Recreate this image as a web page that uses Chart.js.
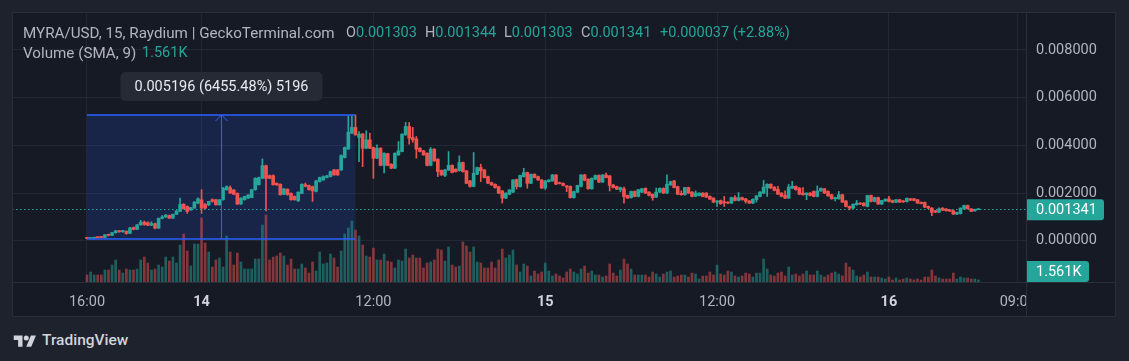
<!DOCTYPE html>
<html>
<head>
<meta charset="utf-8">
<script src="https://cdn.jsdelivr.net/npm/chart.js@4.4.1/dist/chart.umd.min.js"></script>
<style>
  body { margin: 0; width: 1129px; height: 361px; background: #1e222d; overflow: hidden; position: relative; font-family: Roboto, sans-serif; }
  #wrap { position: absolute; left: 12px; top: 12px; width: 1104px; height: 305px; }
  .hd { position: absolute; font-size: 14.5px; line-height: 18px; color: #b2b5be; white-space: nowrap; }
  .up { color: #26a69a; }
  #logo { position: absolute; left: 13px; top: 331px; display: flex; align-items: center; gap: 5px; color: #d1d4dc; font-size: 15.5px; font-weight: 500; }
</style>
</head>
<body>
<div id="wrap"><canvas id="chart" width="1104" height="305"></canvas></div>

<div class="hd" style="left:23px;top:24px;font-size:15.2px">MYRA/USD, 15, Raydium | GeckoTerminal.com</div>
<div class="hd" style="left:346px;top:24px">O<span class="up">0.001303</span></div>
<div class="hd" style="left:425px;top:24px">H<span class="up">0.001344</span></div>
<div class="hd" style="left:504px;top:24px">L<span class="up">0.001303</span></div>
<div class="hd" style="left:581px;top:24px">C<span class="up">0.001341</span></div>
<div class="hd up" style="left:660px;top:24px">+0.000037 (+2.88%)</div>
<div class="hd" style="left:23px;top:44px;font-size:15.2px">Volume (SMA, 9)</div>
<div class="hd up" style="left:142px;top:44px">1.561K</div>

<div id="logo">
  <svg width="24" height="15" viewBox="0 0 36 24"><path fill="#d1d4dc" d="M14 22H7V11H0V4h14v18zM28 22h-8l7.5-18h8L28 22z"/><circle cx="20" cy="8" r="4" fill="#d1d4dc"/></svg>
  <span>TradingView</span>
</div>

<script>
// 15 minute candles, prices in millionths of a USD (1341 = 0.001341)
const opens = [
  140, 95, 110, 150, 165, 140, 250, 230, 340, 420,
  375, 400, 310, 560, 480, 670, 780, 760, 650, 720,
  530, 940, 1000, 1060, 950, 1110, 1230, 1530, 1440, 1290,
  1370, 1580, 1720, 1530, 1500, 1720, 1720, 1510, 1720, 2140,
  2230, 2130, 1990, 1540, 1720, 1790, 1810, 2140, 2350, 2620,
  3150, 2730, 2730, 2410, 2370, 1950, 2160, 1990, 1860, 1670,
  1990, 2350, 2320, 2270, 2070, 2480, 2550, 2650, 2690, 2970,
  2970, 2970, 3490, 3850, 4510, 4750, 4330, 4480, 3880, 4230,
  3910, 3460, 3880, 3160, 3650, 3210, 3040, 3600, 3740, 4440,
  4790, 4330, 4270, 3880, 3770, 3670, 3160, 3840, 3420, 2950,
  2740, 2960, 3160, 3000, 2940, 3280, 2930, 2510, 2280, 2790,
  3070, 2970, 2690, 2440, 2370, 2270, 2090, 1790, 1950, 2040,
  2570, 2270, 2690, 2860, 2410, 2790, 2690, 2550, 2210, 2480,
  2510, 2760, 2440, 2410, 2300, 2280, 1810, 2040, 2280, 2760,
  2580, 2180, 2580, 2740, 2460, 2760, 2720, 2340, 2270, 2140,
  2180, 1900, 1810, 2070, 1860, 2040, 2200, 2040, 1950, 1830,
  2040, 2200, 2000, 2340, 2510, 2270, 1990, 1930, 2230, 2040,
  1870, 1900, 2000, 2000, 1860, 1790, 1620, 1690, 1620, 1620,
  1580, 1810, 1690, 1810, 1760, 1670, 1580, 1720, 1860, 2000,
  2210, 2370, 2250, 2160, 2000, 1900, 1790, 2200, 2280, 2210,
  2000, 1930, 2000, 2070, 1860, 2090, 2180, 2070, 1930, 1760,
  1760, 1930, 1670, 1440, 1370, 1510, 1580, 1580, 1440, 1900,
  1650, 1810, 1540, 1670, 1760, 1690, 1620, 1720, 1670, 1640,
  1760, 1760, 1720, 1610, 1610, 1440, 1370, 1260, 1200, 1370,
  1330, 1300, 1260, 1120, 1140, 1340, 1480, 1340, 1250, 1303
];
const highs = [
  150, 120, 150, 165, 170, 260, 280, 350, 440, 430,
  440, 420, 560, 580, 680, 860, 830, 790, 800, 740,
  960, 1060, 1100, 1080, 1120, 1260, 1790, 1560, 1460, 1400,
  1650, 1800, 2140, 1560, 1660, 1760, 1740, 1730, 2240, 2300,
  2300, 2150, 2010, 1800, 1870, 1940, 2160, 2640, 2670, 3430,
  3170, 2760, 2760, 2430, 2390, 2190, 2180, 2010, 1880, 2050,
  2390, 2420, 2340, 2290, 2530, 2670, 2720, 2740, 2920, 3000,
  2990, 3600, 3930, 5240, 5250, 5276, 4580, 4500, 4610, 4510,
  3930, 4020, 3900, 3690, 3670, 3230, 3690, 4160, 4480, 4960,
  4960, 4750, 4370, 3900, 3790, 3690, 3910, 3860, 3440, 2970,
  2990, 3740, 3180, 3020, 3560, 3300, 2950, 2530, 3700, 3090,
  3210, 2990, 2710, 2460, 2390, 2290, 2110, 2010, 2150, 2570,
  2590, 2750, 3040, 2880, 2800, 2810, 2710, 2570, 2530, 2560,
  2780, 2780, 2460, 2430, 2320, 2300, 2080, 2330, 2780, 2790,
  2600, 2640, 2760, 2760, 2780, 2840, 2740, 2360, 2290, 2250,
  2250, 1920, 2080, 2090, 2150, 2200, 2220, 2060, 1970, 2210,
  2220, 2220, 2760, 2500, 2530, 2290, 2090, 2240, 2250, 2060,
  2090, 2010, 2020, 2020, 1880, 1810, 1690, 1710, 1860, 1640,
  1830, 1900, 2020, 1830, 1780, 1690, 1760, 1900, 2060, 2530,
  2390, 2390, 2270, 2280, 2020, 2090, 2370, 2490, 2300, 2230,
  2230, 2010, 2020, 2090, 2300, 2220, 2200, 2090, 1950, 1830,
  2070, 1950, 1690, 1460, 1550, 1690, 1600, 1600, 1910, 1920,
  1830, 1830, 1700, 1760, 1860, 1710, 1730, 1740, 1690, 1800,
  1780, 1780, 1740, 1630, 1630, 1460, 1390, 1280, 1380, 1390,
  1350, 1310, 1280, 1200, 1380, 1500, 1500, 1350, 1330, 1344
];
const lows = [
  80, 90, 105, 120, 130, 135, 200, 220, 320, 360,
  360, 270, 300, 460, 470, 650, 650, 630, 640, 500,
  520, 920, 980, 930, 940, 1100, 1220, 1330, 1150, 1280,
  1360, 1560, 1150, 1340, 1480, 1620, 1490, 1490, 1700, 2120,
  1980, 1930, 1520, 1520, 1700, 1770, 1800, 2120, 2330, 2600,
  1250, 2600, 2330, 2320, 1910, 1930, 1910, 1700, 1700, 1650,
  1970, 2260, 2120, 1650, 2050, 2460, 2530, 2630, 2670, 2750,
  2740, 2950, 3470, 3830, 4490, 4420, 3320, 3110, 3860, 3860,
  2620, 3440, 3140, 2840, 3140, 3020, 3020, 3580, 3720, 4420,
  4050, 4130, 3460, 3720, 3580, 3140, 3140, 3330, 2690, 2740,
  2690, 2940, 2840, 2880, 2920, 2880, 2390, 2250, 2260, 2770,
  2480, 2630, 2390, 2320, 2210, 1970, 1580, 1770, 1930, 2020,
  2170, 2250, 2670, 2200, 2390, 2630, 2530, 2190, 2150, 2460,
  2490, 2350, 2380, 2300, 2060, 1790, 1790, 2020, 2260, 2510,
  2160, 2160, 2560, 2440, 2440, 2630, 2090, 2210, 2150, 2050,
  1580, 1770, 1790, 1840, 1840, 2020, 1980, 1880, 1700, 1810,
  2020, 1980, 1980, 2320, 2220, 1940, 1910, 1910, 1980, 1840,
  1850, 1880, 1840, 1810, 1730, 1600, 1440, 1530, 1440, 1560,
  1560, 1670, 1670, 1700, 1580, 1560, 1560, 1620, 1840, 1980,
  1860, 2190, 2090, 1940, 1840, 1770, 1770, 2180, 2120, 1940,
  1910, 1720, 1880, 1840, 1840, 2070, 1980, 1870, 1740, 1670,
  1740, 1600, 1420, 1300, 1350, 1490, 1520, 1450, 1420, 1630,
  1630, 1520, 1520, 1650, 1630, 1590, 1600, 1600, 1610, 1620,
  1690, 1670, 1560, 1550, 1390, 1350, 1050, 1180, 1180, 1270,
  1240, 1230, 1100, 1100, 1120, 1320, 1330, 1220, 1240, 1303
];
const closes = [
  95, 110, 145, 130, 140, 250, 230, 340, 420, 375,
  430, 310, 540, 480, 670, 780, 680, 650, 720, 530,
  940, 1000, 1080, 950, 1110, 1250, 1530, 1340, 1230, 1390,
  1620, 1760, 1370, 1370, 1650, 1650, 1510, 1720, 2200, 2270,
  2000, 1950, 1540, 1790, 1860, 1920, 2140, 2620, 2650, 3150,
  2620, 2620, 2350, 2340, 1930, 2180, 1930, 1720, 1720, 2040,
  2370, 2280, 2140, 2090, 2510, 2650, 2690, 2720, 2900, 2760,
  2760, 3570, 3910, 4550, 4750, 4440, 4470, 3880, 4230, 3880,
  3460, 3880, 3160, 3670, 3160, 3040, 3670, 3770, 4470, 4790,
  4300, 4230, 3840, 3740, 3600, 3160, 3840, 3350, 2900, 2760,
  2970, 3160, 2860, 2900, 3280, 2900, 2410, 2280, 2830, 3070,
  2930, 2650, 2410, 2340, 2230, 2000, 1790, 2000, 2130, 2550,
  2270, 2740, 2860, 2410, 2790, 2650, 2550, 2210, 2510, 2550,
  2760, 2370, 2400, 2320, 2250, 1810, 2060, 2320, 2760, 2530,
  2180, 2620, 2740, 2460, 2760, 2650, 2320, 2230, 2160, 2230,
  1850, 1790, 2070, 1860, 2140, 2180, 2000, 1900, 1810, 2040,
  2200, 2000, 2370, 2480, 2230, 1950, 1930, 2230, 2000, 1860,
  2000, 2000, 1860, 1830, 1740, 1620, 1670, 1550, 1590, 1580,
  1810, 1690, 1810, 1720, 1650, 1580, 1740, 1880, 2040, 2250,
  2370, 2210, 2110, 1950, 1860, 1790, 2250, 2290, 2140, 1950,
  1930, 2000, 1900, 1860, 2090, 2200, 2000, 1880, 1760, 1810,
  1930, 1620, 1440, 1370, 1530, 1580, 1540, 1470, 1900, 1650,
  1810, 1540, 1690, 1740, 1650, 1610, 1720, 1620, 1630, 1780,
  1700, 1690, 1580, 1560, 1410, 1370, 1190, 1200, 1340, 1280,
  1260, 1240, 1120, 1190, 1370, 1480, 1340, 1230, 1320, 1341
];
const volumes = [
  3500, 5000, 3500, 3500, 3500, 6000, 6000, 8500, 11000, 6000,
  4500, 6500, 6000, 6000, 6500, 11000, 12500, 9500, 6000, 6500,
  8500, 7500, 12500, 10500, 12500, 9500, 18500, 24000, 15500, 8000,
  19000, 19000, 32000, 19500, 15000, 7500, 11000, 12000, 7500, 23000,
  15000, 8500, 14500, 10000, 6500, 6500, 6500, 11500, 11500, 28500,
  33500, 11000, 12500, 13000, 14500, 13000, 8500, 11500, 6500, 6500,
  9000, 7000, 4500, 10000, 5500, 15000, 9000, 9500, 14000, 12000,
  7500, 15500, 24000, 27000, 30500, 26000, 23000, 18500, 13000, 12500,
  17000, 11000, 11000, 14000, 10500, 10000, 7000, 11000, 10500, 16500,
  12000, 13500, 12000, 12000, 7000, 9500, 10000, 11000, 16500, 16000,
  10500, 17500, 8500, 7500, 8000, 20000, 18000, 15000, 17500, 10000,
  9500, 7000, 7000, 10000, 7000, 11000, 16500, 12000, 13500, 16000,
  8500, 5000, 9000, 8000, 3000, 5500, 4000, 5000, 9500, 5500,
  3000, 4000, 3000, 2000, 5000, 6500, 5000, 4000, 6500, 8000,
  4500, 5500, 3500, 3500, 2500, 3000, 9000, 4500, 3000, 6000,
  11500, 9000, 6500, 3500, 3500, 3500, 3500, 2500, 5000, 4000,
  2500, 4000, 5000, 5500, 2500, 3000, 3500, 3500, 2500, 4500,
  4000, 1500, 3000, 3000, 5000, 3500, 8500, 4000, 3500, 5500,
  5000, 3000, 2500, 3000, 4500, 4000, 2500, 4500, 4500, 11500,
  6500, 3500, 3000, 4500, 5000, 3000, 7500, 3500, 4000, 3000,
  4000, 5500, 3500, 3500, 5500, 3500, 2500, 3500, 4500, 5000,
  4000, 3000, 9500, 7500, 6000, 3000, 2500, 3500, 5000, 2500,
  2500, 2500, 2000, 1500, 2500, 1000, 2000, 1000, 1500, 2000,
  1500, 1000, 1500, 1000, 2500, 2500, 6000, 3000, 2000, 1500,
  1500, 1500, 4500, 1500, 2500, 2000, 2000, 1500, 1500, 1000
];

// time axis: candle index of each tick and its label
const timeTickIdx = [0, 32, 80, 128, 176, 224, 260];
const timeTickLabels = ['16:00', '14', '12:00', '15', '12:00', '16', '09:00'];
const dayLabels = ['14', '15', '16'];
const priceTicks = [0, 2000, 4000, 6000, 8000];

const lastPrice = 1341;
const volumeSma = 1561;

// price range measurement drawn on the chart
const measureFrom = 0;
const measureTo = 75;
const measureLow = 80;
const measureHigh = 5276;
const measureText = '0.005196 (6455.48%) 5196';

const bgColor = '#161a25';
const gridColor = '#232733';
const lineColor = '#2a2e39';
const textColor = '#b2b5be';
const upColor = '#26a69a';
const downColor = '#ef5350';
const font = 'Roboto';

const isUp = i => closes[i] >= opens[i];
const candleColor = c => isUp(c.dataIndex) ? upColor : downColor;
const volColor = c => isUp(c.dataIndex) ? 'rgba(38,166,154,0.5)' : 'rgba(239,83,80,0.5)';

const idx = closes.map((_, i) => i);
const wickData = idx.map(i => ({ x: i, y: [lows[i], highs[i]] }));
const bodyData = idx.map(i => ({ x: i, y: [opens[i], closes[i]] }));
const volData = idx.map(i => ({ x: i, y: volumes[i] }));

const overlay = {
    id: 'overlay',
    beforeDraw(chart) {
        const ctx = chart.ctx;
        ctx.save();
        ctx.fillStyle = bgColor;
        ctx.fillRect(0, 0, chart.width, chart.height);
        ctx.restore();
    },
    beforeDatasetsDraw(chart) {
        const { ctx, chartArea: a, scales: { x, y } } = chart;
        ctx.save();
        ctx.beginPath();
        ctx.rect(a.left, a.top, a.right - a.left, a.bottom - a.top);
        ctx.clip();

        // measurement area fill
        const x0 = x.getPixelForValue(measureFrom);
        const x1 = x.getPixelForValue(measureTo);
        const yTop = y.getPixelForValue(measureHigh);
        const yBot = y.getPixelForValue(measureLow);
        ctx.fillStyle = 'rgba(41,98,255,0.16)';
        ctx.fillRect(x0, yTop, x1 - x0, yBot - yTop);

        // last price dotted line
        const py = Math.round(y.getPixelForValue(lastPrice)) + 0.5;
        ctx.strokeStyle = upColor;
        ctx.lineWidth = 1;
        ctx.setLineDash([1.5, 2.5]);
        ctx.beginPath();
        ctx.moveTo(a.left, py);
        ctx.lineTo(a.right, py);
        ctx.stroke();
        ctx.restore();
    },
    afterDatasetsDraw(chart) {
        const { ctx, chartArea: a, scales: { x, y } } = chart;
        const x0 = x.getPixelForValue(measureFrom);
        const x1 = x.getPixelForValue(measureTo);
        const yTop = Math.round(y.getPixelForValue(measureHigh));
        const yBot = Math.round(y.getPixelForValue(measureLow));
        const xm = Math.round((x0 + x1) / 2) + 0.5;

        ctx.save();
        ctx.strokeStyle = '#2962ff';
        ctx.lineWidth = 1.5;
        ctx.beginPath();
        ctx.moveTo(x0, yTop); ctx.lineTo(x1, yTop);
        ctx.moveTo(x0, yBot); ctx.lineTo(x1, yBot);
        ctx.stroke();
        ctx.lineWidth = 1;
        ctx.beginPath();
        ctx.moveTo(xm, yBot); ctx.lineTo(xm, yTop);
        ctx.moveTo(xm - 6, yTop + 6); ctx.lineTo(xm, yTop); ctx.lineTo(xm + 6, yTop + 6);
        ctx.stroke();

        // measurement label
        ctx.font = '14.5px ' + font;
        const tw = ctx.measureText(measureText).width;
        const bw = tw + 28, bh = 29;
        const bx = xm - bw / 2, by = yTop - 14 - bh;
        ctx.fillStyle = '#262a35';
        ctx.beginPath();
        ctx.roundRect(bx, by, bw, bh, 5);
        ctx.fill();
        ctx.fillStyle = '#e8eaef';
        ctx.textAlign = 'center';
        ctx.textBaseline = 'middle';
        ctx.fillText(measureText, xm, by + bh / 2 + 1);

        // price axis background (hides the clipped time label)
        ctx.fillStyle = bgColor;
        ctx.fillRect(a.right, 0, chart.width - a.right, chart.height);
        ctx.restore();
    },
    afterDraw(chart) {
        const { ctx, chartArea: a, scales: { y, yVol } } = chart;
        ctx.save();
        ctx.font = '14.5px ' + font;
        ctx.textBaseline = 'middle';

        // last price tag
        const py = y.getPixelForValue(lastPrice);
        ctx.fillStyle = upColor;
        ctx.beginPath();
        ctx.roundRect(a.right, py - 9.5, 78, 21, [0, 3, 3, 0]);
        ctx.fill();
        ctx.fillStyle = '#ffffff';
        ctx.fillText((lastPrice / 1e6).toFixed(6), a.right + 10, py + 1.5);

        // volume SMA tag, kept inside the pane
        let vy = yVol.getPixelForValue(volumeSma) - 10;
        vy = Math.min(vy, a.bottom - 21);
        ctx.fillStyle = upColor;
        ctx.beginPath();
        ctx.roundRect(a.right, vy, 63, 21, [0, 3, 3, 0]);
        ctx.fill();
        ctx.fillStyle = '#ffffff';
        ctx.fillText((volumeSma / 1000).toFixed(3) + 'K', a.right + 10, vy + 11);

        // pane and axis borders
        ctx.strokeStyle = lineColor;
        ctx.lineWidth = 1;
        ctx.beginPath();
        ctx.moveTo(a.right + 0.5, 0); ctx.lineTo(a.right + 0.5, chart.height);
        ctx.moveTo(0, a.bottom + 0.5); ctx.lineTo(chart.width, a.bottom + 0.5);
        ctx.rect(0.5, 0.5, chart.width - 1, chart.height - 1);
        ctx.stroke();
        ctx.restore();
    }
};

const tickLabel = v => timeTickLabels[timeTickIdx.indexOf(v)] || '';
const isDay = c => !!(c && c.tick) && dayLabels.includes(tickLabel(c.tick.value));

new Chart(document.getElementById('chart'), {
    type: 'bar',
    data: {
        datasets: [
            {
                label: 'Volume',
                data: volData,
                yAxisID: 'yVol',
                backgroundColor: volColor,
                barThickness: 2,
                grouped: false,
                order: 3
            },
            {
                label: 'Wick',
                data: wickData,
                yAxisID: 'y',
                backgroundColor: candleColor,
                barThickness: 1,
                grouped: false,
                order: 2
            },
            {
                label: 'Body',
                data: bodyData,
                yAxisID: 'y',
                backgroundColor: candleColor,
                barThickness: 3,
                minBarLength: 1,
                grouped: false,
                order: 1
            }
        ]
    },
    options: {
        responsive: false,
        animation: false,
        devicePixelRatio: 1,
        layout: { padding: 0 },
        plugins: {
            legend: { display: false },
            tooltip: { enabled: false }
        },
        scales: {
            x: {
                type: 'linear',
                min: -20.95,
                max: 262.3,
                offset: false,
                grid: { color: gridColor, offset: false, drawTicks: false },
                border: { display: false },
                ticks: {
                    autoSkip: false,
                    maxRotation: 0,
                    padding: 12,
                    color: c => isDay(c) ? '#d1d4dc' : textColor,
                    font: c => ({ family: font, size: 14.5, weight: isDay(c) ? 'bold' : 'normal' }),
                    callback: v => tickLabel(v)
                },
                afterBuildTicks: s => { s.ticks = timeTickIdx.map(v => ({ value: v })); },
                afterFit: s => { s.height = 35; s.paddingLeft = 0; s.paddingRight = 0; }
            },
            y: {
                type: 'linear',
                position: 'right',
                min: -1726,
                max: 9587,
                grid: { color: gridColor, drawTicks: false },
                border: { display: false },
                ticks: {
                    z: 1,
                    padding: 10,
                    color: textColor,
                    font: { family: font, size: 14.5 },
                    callback: v => (v / 1e6).toFixed(6)
                },
                afterBuildTicks: s => { s.ticks = priceTicks.map(v => ({ value: v })); },
                afterFit: s => { s.width = 90; s.paddingTop = 0; s.paddingBottom = 0; }
            },
            yVol: {
                type: 'linear',
                display: false,
                min: 0,
                max: 135000
            }
        }
    },
    plugins: [overlay]
});
</script>
</body>
</html>
